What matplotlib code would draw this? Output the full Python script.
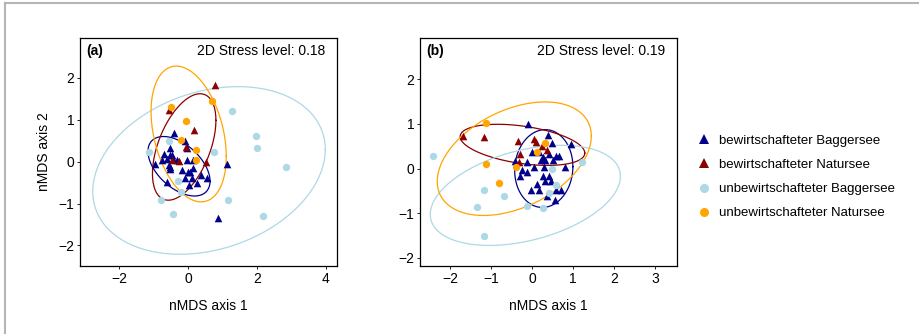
import numpy as np
import matplotlib.pyplot as plt
from matplotlib.lines import Line2D

plt.rcParams['font.family'] = ['Liberation Sans', 'DejaVu Sans']
plt.rcParams['font.size'] = 10

groups = ['bewirtschafteter Baggersee', 'bewirtschafteter Natursee',
          'unbewirtschafteter Baggersee', 'unbewirtschafteter Natursee']
colors = ['#00008B', '#8B0000', '#ADD8E6', '#FFA500']
markers = ['^', '^', 'o', 'o']

# panel (a) site scores
a_bb = [(-0.40, 0.69), (-0.02, 0.33), (-0.52, 0.33), (-0.69, 0.19), (-0.47, 0.17),
        (-0.60, 0.07), (-0.42, 0.07), (-0.97, -0.05), (-0.76, 0.03), (-0.54, -0.09),
        (-0.52, -0.17), (-0.04, 0.03), (0.15, 0.03), (-0.18, -0.21), (0.06, -0.25),
        (0.14, -0.15), (0.38, -0.33), (0.56, -0.39), (-0.09, -0.40), (0.11, -0.40),
        (0.04, -0.55), (0.27, -0.52), (-0.62, -0.48), (1.13, -0.05), (0.88, -1.35),
        (-0.10, 0.50), (-0.33, 0.05), (-0.53, 0.15), (-0.53, -0.12), (0.01, -0.25)]
a_bn = [(0.78, 1.84), (-0.56, 1.24), (0.18, 0.76), (-0.05, 0.34), (-0.27, 0.01),
        (0.51, -0.02), (-0.47, 0.05)]
a_ub = [(1.29, 1.20), (1.96, 0.61), (1.99, 0.33), (2.85, -0.12), (1.15, -0.92),
        (2.18, -1.30), (-0.43, -1.25), (-0.79, -0.91), (-1.12, 0.22), (-0.55, 0.50),
        (0.76, 0.22), (-0.29, -0.46), (-0.19, -0.72)]
a_un = [(-0.50, 1.30), (-0.06, 0.96), (0.71, 1.44), (-0.19, 0.51), (0.22, 0.27),
        (0.22, 0.03)]

# panel (b) site scores
b_bb = [(-0.09, 1.00), (0.40, 0.76), (0.50, 0.58), (0.96, 0.55), (0.01, 0.37),
        (0.17, 0.37), (0.28, 0.25), (0.41, 0.33), (0.58, 0.29), (0.66, 0.27),
        (0.21, 0.19), (0.33, 0.18), (0.52, 0.18), (-0.41, 0.17), (-0.11, 0.14),
        (0.05, 0.03), (0.29, 0.03), (0.80, 0.03), (-0.24, -0.04), (-0.11, -0.08),
        (-0.28, -0.16), (0.28, -0.16), (0.41, -0.16), (0.47, -0.27), (0.33, -0.27),
        (0.13, -0.34), (0.17, -0.49), (0.58, -0.49), (-0.01, -0.49), (0.36, -0.61),
        (0.56, -0.70), (0.70, -0.49)]
b_bn = [(-1.68, 0.72), (-1.17, 0.70), (-0.34, 0.61), (0.05, 0.67), (0.09, 0.59),
        (0.25, 0.50), (0.36, 0.42), (-0.29, 0.33), (-0.32, 0.14)]
b_ub = [(-2.41, 0.28), (-1.17, -0.49), (-0.68, -0.62), (-1.35, -0.85), (-1.16, -1.51),
        (-0.12, -0.83), (0.27, -0.88), (0.48, -0.02), (1.23, 0.14), (0.41, -0.55),
        (0.60, -0.36)]
b_un = [(-1.11, 1.02), (-1.11, 0.10), (-0.80, -0.32), (-0.40, 0.03), (0.33, 0.57),
        (0.13, 0.37)]

# ellipses: centre x, centre y, half-width x, half-height y, correlation
a_ell = [(-0.26, -0.11, 0.90, 0.71, -0.50),
         (-0.11, 0.35, 0.92, 1.27, 0.50),
         (0.61, -0.21, 3.37, 2.00, 0.25),
         (0.02, 0.66, 1.09, 1.62, -0.33)]
b_ell = [(0.29, 0.00, 0.71, 0.87, 0.05),
         (-0.23, 0.53, 1.52, 0.46, -0.40),
         (-0.16, -0.60, 2.32, 1.12, 0.38),
         (-0.43, 0.22, 1.88, 1.27, 0.40)]

panels = [
    dict(tag='(a)', stress='2D Stress level: 0.18', pts=[a_bb, a_bn, a_ub, a_un],
         ell=a_ell, xlim=(-3.13, 4.32), ylim=(-2.49, 2.95), xticks=[-2, 0, 2, 4]),
    dict(tag='(b)', stress='2D Stress level: 0.19', pts=[b_bb, b_bn, b_ub, b_un],
         ell=b_ell, xlim=(-2.73, 3.54), ylim=(-2.18, 2.92), xticks=[-2, -1, 0, 1, 2, 3]),
]


def ellipse_xy(cx, cy, sx, sy, rho):
    t = np.linspace(0, 2 * np.pi, 200)
    x = cx + sx * np.cos(t)
    y = cy + sy * (rho * np.cos(t) + np.sqrt(1 - rho ** 2) * np.sin(t))
    return x, y


fig = plt.figure(figsize=(9.19, 3.34), dpi=100)
lefts = [80 / 919, 420 / 919]

for p, left in zip(panels, lefts):
    ax = fig.add_axes([left, 68 / 334, 257 / 919, 228 / 334])
    for g in range(4):
        x, y = ellipse_xy(*p['ell'][g])
        ax.plot(x, y, color=colors[g], lw=0.9, zorder=2)
    for g in range(4):
        arr = np.array(p['pts'][g])
        ax.scatter(arr[:, 0], arr[:, 1], marker=markers[g], color=colors[g],
                   s=30 if markers[g] == '^' else 28, linewidths=0, zorder=3)
    ax.set_xlim(p['xlim'])
    ax.set_ylim(p['ylim'])
    ax.set_xticks(p['xticks'])
    ax.set_yticks([-2, -1, 0, 1, 2])
    ax.tick_params(direction='out', length=2, width=0.6, labelsize=10, pad=2)
    for s in ax.spines.values():
        s.set_linewidth(0.9)
    ax.set_xlabel('nMDS axis 1', fontsize=10, labelpad=10)
    ax.text(0.025, 0.975, p['tag'], transform=ax.transAxes, fontsize=10,
            fontweight='bold', ha='left', va='top')
    ax.text(0.955, 0.975, p['stress'], transform=ax.transAxes, fontsize=10,
            ha='right', va='top')
    if p['tag'] == '(a)':
        ax.set_ylabel('nMDS axis 2', fontsize=10, labelpad=5)

handles = [Line2D([], [], marker=markers[g], color=colors[g], linestyle='none',
                  markersize=7 if markers[g] == '^' else 6.5, markeredgewidth=0)
           for g in range(4)]
fig.legend(handles, groups, loc='center left', bbox_to_anchor=(0.745, 0.47),
           frameon=False, fontsize=9.5, handletextpad=0.5, labelspacing=0.9,
           handlelength=1.2)

# grey frame lines at top and left
fig.add_artist(Line2D([5 / 919, 1], [1 - 3 / 334, 1 - 3 / 334], color='#b5b5b5', lw=1.5))
fig.add_artist(Line2D([5 / 919, 5 / 919], [0, 1 - 3 / 334], color='#b5b5b5', lw=1.5))

fig.savefig('out.png', dpi=100)
